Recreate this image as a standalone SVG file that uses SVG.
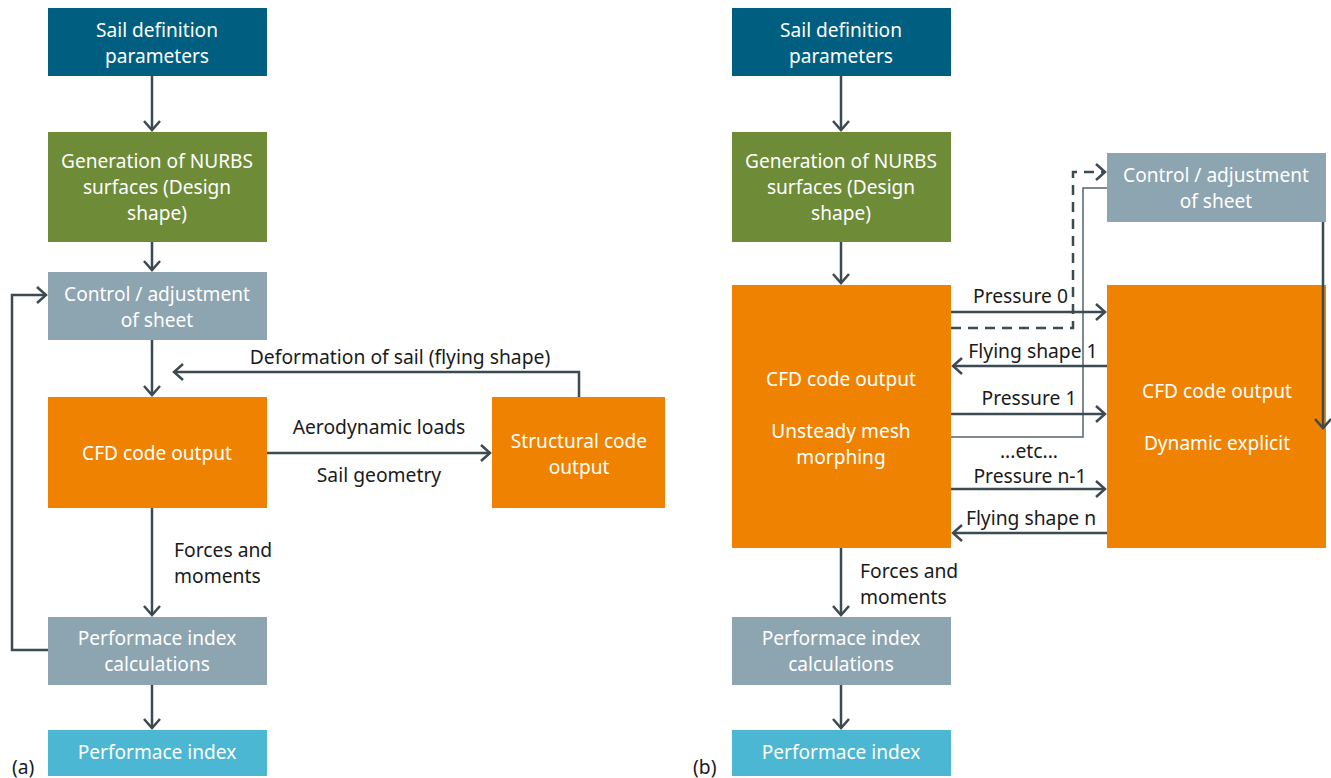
<svg xmlns="http://www.w3.org/2000/svg" width="1331" height="778" viewBox="0 0 1331 778">
<defs>
<marker id="ah" markerWidth="14" markerHeight="18" refX="11" refY="9" orient="auto" markerUnits="userSpaceOnUse">
<path d="M2,1 L11,9 L2,17" fill="none" stroke="#3c4a52" stroke-width="2.5"/>
</marker>
</defs>
<style>
.bx{stroke:none}
.t{font-family:"Noto Sans","Open Sans",sans-serif;font-size:19.1px;fill:#ffffff;text-anchor:middle}
.l{font-family:"Noto Sans","Open Sans",sans-serif;font-size:19.3px;fill:#1a1a1a}
.c{fill:none;stroke:#3c4a52;stroke-width:2.5}
.thin{fill:none;stroke:#56636b;stroke-width:1.5}
.dash{fill:none;stroke:#3c4a52;stroke-width:2.5;stroke-dasharray:10,7}
</style>
<rect width="1331" height="778" fill="#ffffff"/>
<g id="connectors">
<path class="c" d="M152,76 V130" marker-end="url(#ah)"/>
<path class="c" d="M152,242 V270" marker-end="url(#ah)"/>
<path class="c" d="M152,340 V395" marker-end="url(#ah)"/>
<path class="c" d="M152,508 V615" marker-end="url(#ah)"/>
<path class="c" d="M152,685 V728" marker-end="url(#ah)"/>
<path class="c" d="M48,650 H12 V295 H46" marker-end="url(#ah)"/>
<path class="c" d="M579,397 V372 H174" marker-end="url(#ah)"/>
<path class="c" d="M267,453 H490" marker-end="url(#ah)"/>
<path class="c" d="M841,76 V130" marker-end="url(#ah)"/>
<path class="c" d="M841,242 V283" marker-end="url(#ah)"/>
<path class="c" d="M841,548 V615" marker-end="url(#ah)"/>
<path class="c" d="M841,685 V728" marker-end="url(#ah)"/>
<path class="dash" d="M951,328 H1073 V172 H1105" marker-end="url(#ah)"/>
<path class="thin" d="M1107,188 H1083 V437 H951"/>
<path class="c" d="M951,312 H1105" marker-end="url(#ah)"/>
<path class="c" d="M1107,366 H953" marker-end="url(#ah)"/>
<path class="c" d="M951,414 H1105" marker-end="url(#ah)"/>
<path class="c" d="M951,489 H1105" marker-end="url(#ah)"/>
<path class="c" d="M1107,533 H953" marker-end="url(#ah)"/>
</g>
<g id="a-sail"><rect class="bx" x="48" y="8" width="219" height="68" fill="#005f80"/><text class="t" x="157" y="37">Sail definition</text><text class="t" x="157" y="63">parameters</text></g>
<g id="a-nurbs"><rect class="bx" x="48" y="132" width="219" height="110" fill="#6e8b37"/><text class="t" x="157" y="168">Generation of NURBS</text><text class="t" x="157" y="194">surfaces (Design</text><text class="t" x="157" y="220">shape)</text></g>
<g id="a-control"><rect class="bx" x="48" y="272" width="219" height="68" fill="#8da4b1"/><text class="t" x="157" y="301">Control / adjustment</text><text class="t" x="157" y="327">of sheet</text></g>
<g id="a-cfd"><rect class="bx" x="48" y="397" width="219" height="111" fill="#ef8200"/><text class="t" x="157" y="460">CFD code output</text></g>
<g id="a-struct"><rect class="bx" x="492" y="397" width="173" height="111" fill="#ef8200"/><text class="t" x="579" y="448">Structural code</text><text class="t" x="579" y="474">output</text></g>
<g id="a-perfcalc"><rect class="bx" x="48" y="617" width="219" height="68" fill="#8da4b1"/><text class="t" x="157" y="645">Performace index</text><text class="t" x="157" y="671">calculations</text></g>
<g id="a-perf"><rect class="bx" x="48" y="730" width="219" height="46" fill="#4bb7d3"/><text class="t" x="157" y="759">Performace index</text></g>
<g id="a-labels">
<text class="l" x="400" y="364" text-anchor="middle">Deformation of sail (flying shape)</text>
<text class="l" x="379" y="434" text-anchor="middle">Aerodynamic loads</text>
<text class="l" x="379" y="482" text-anchor="middle">Sail geometry</text>
<text class="l" x="174" y="557">Forces and</text>
<text class="l" x="174" y="583">moments</text>
<text class="l" x="12" y="774">(a)</text>
</g>
<g id="b-sail"><rect class="bx" x="732" y="8" width="219" height="68" fill="#005f80"/><text class="t" x="841" y="37">Sail definition</text><text class="t" x="841" y="63">parameters</text></g>
<g id="b-nurbs"><rect class="bx" x="732" y="132" width="219" height="110" fill="#6e8b37"/><text class="t" x="841" y="168">Generation of NURBS</text><text class="t" x="841" y="194">surfaces (Design</text><text class="t" x="841" y="220">shape)</text></g>
<g id="b-cfd1"><rect class="bx" x="732" y="285" width="219" height="263" fill="#ef8200"/><text class="t" x="841" y="386">CFD code output</text><text class="t" x="841" y="438">Unsteady mesh</text><text class="t" x="841" y="464">morphing</text></g>
<g id="b-control"><rect class="bx" x="1107" y="153" width="219" height="69" fill="#8da4b1"/><text class="t" x="1216" y="182">Control / adjustment</text><text class="t" x="1216" y="208">of sheet</text></g>
<g id="b-cfd2"><rect class="bx" x="1107" y="285" width="219" height="263" fill="#ef8200"/><text class="t" x="1217" y="398">CFD code output</text><text class="t" x="1217" y="450">Dynamic explicit</text></g>
<g id="b-perfcalc"><rect class="bx" x="732" y="617" width="219" height="68" fill="#8da4b1"/><text class="t" x="841" y="645">Performace index</text><text class="t" x="841" y="671">calculations</text></g>
<g id="b-perf"><rect class="bx" x="732" y="730" width="219" height="46" fill="#4bb7d3"/><text class="t" x="841" y="759">Performace index</text></g>
<g id="b-connector-over">
<path class="c" d="M1323,222 V428" marker-end="url(#ah)"/>
</g>
<g id="b-labels">
<text class="l" x="1068" y="303" text-anchor="end">Pressure 0</text>
<text class="l" x="1033" y="358" text-anchor="middle">Flying shape 1</text>
<text class="l" x="1029" y="405" text-anchor="middle">Pressure 1</text>
<text class="l" x="1029" y="458" text-anchor="middle">...etc...</text>
<text class="l" x="1030" y="483" text-anchor="middle">Pressure n-1</text>
<text class="l" x="1031" y="525" text-anchor="middle">Flying shape n</text>
<text class="l" x="860" y="578">Forces and</text>
<text class="l" x="860" y="604">moments</text>
<text class="l" x="693" y="774">(b)</text>
</g>
</svg>
